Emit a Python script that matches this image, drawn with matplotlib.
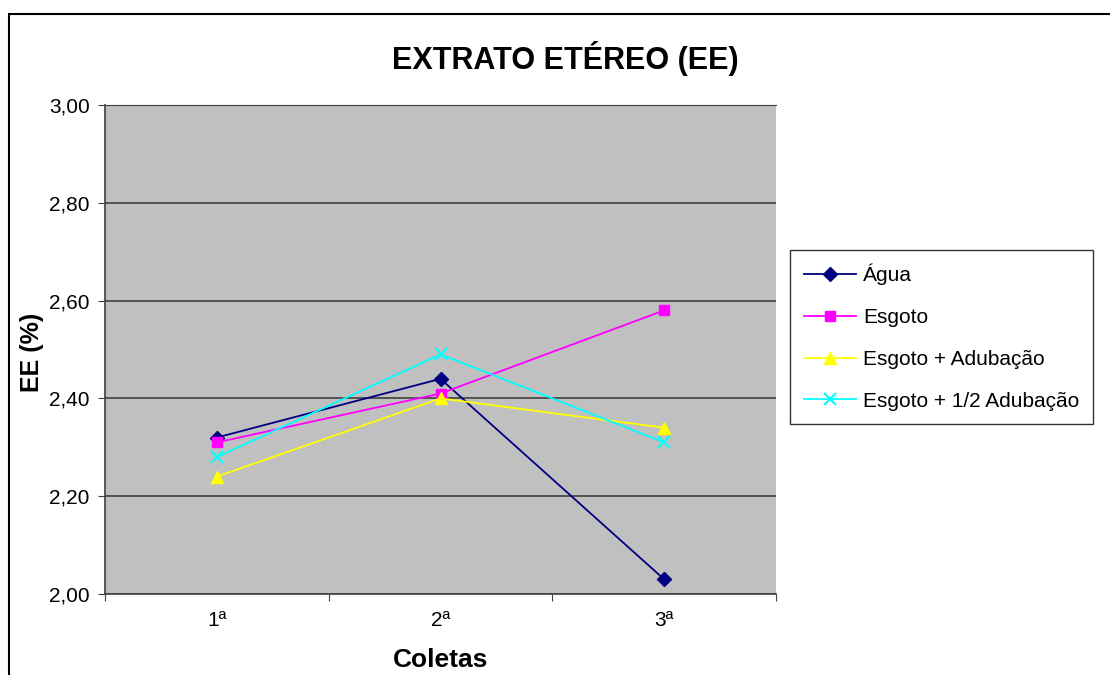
"""Extrato etéreo (EE) por coleta, estilo gráfico de planilha."""

import matplotlib.pyplot as plt
from matplotlib.patches import Rectangle
from matplotlib.ticker import FuncFormatter

plt.rcParams["font.family"] = ["Liberation Sans", "DejaVu Sans"]

COLETAS = ["1ª", "2ª", "3ª"]
AGUA = [2.32, 2.44, 2.03]
ESGOTO = [2.31, 2.41, 2.58]
ESGOTO_ADUB = [2.24, 2.40, 2.34]
ESGOTO_MEIA_ADUB = [2.28, 2.49, 2.31]

SERIES = [
    ("Água", AGUA, "#000080", "D", 7),
    ("Esgoto", ESGOTO, "#FF00FF", "s", 7),
    ("Esgoto + Adubação", ESGOTO_ADUB, "#FFFF00", "^", 8),
    ("Esgoto + 1/2 Adubação", ESGOTO_MEIA_ADUB, "#00FFFF", "x", 8),
]


def main() -> None:
    fig = plt.figure(figsize=(11.1, 6.75), dpi=100)
    fig.patch.set_facecolor("white")

    # outer chart frame, runs off the right and bottom edges
    fig.add_artist(Rectangle((9 / 1110, -0.05), 1.2, 1 - 14 / 675 + 0.05,
                             transform=fig.transFigure, fill=False,
                             edgecolor="black", linewidth=1.5))

    ax = fig.add_axes([105 / 1110, 81 / 675, 671 / 1110, 489 / 675])
    ax.set_facecolor("#C0C0C0")

    x = [i + 0.5 for i in range(len(COLETAS))]
    for name, values, color, marker, size in SERIES:
        ax.plot(x, values, color=color, marker=marker, markersize=size,
                linewidth=1.3, markeredgewidth=1.5 if marker == "x" else 1,
                markeredgecolor=color, label=name)

    ax.set_xlim(0, len(COLETAS))
    ax.set_ylim(2.0, 3.0)
    ax.set_yticks([2.0, 2.2, 2.4, 2.6, 2.8, 3.0])
    ax.yaxis.set_major_formatter(FuncFormatter(lambda v, _: f"{v:.2f}".replace(".", ",")))
    ax.set_xticks(range(len(COLETAS) + 1))
    ax.set_xticklabels([])
    ax.set_xticks(x, minor=True)
    ax.set_xticklabels(COLETAS, minor=True)
    ax.tick_params(axis="x", which="minor", length=0, pad=12, labelsize=15)
    ax.tick_params(axis="x", which="major", length=5, direction="out", color="#404040")
    ax.tick_params(axis="y", length=5, direction="out", labelsize=15, pad=6, color="#404040")

    ax.grid(axis="y", color="#404040", linewidth=1.2)
    ax.set_axisbelow(True)
    for side in ("left", "bottom"):
        ax.spines[side].set_color("#404040")
        ax.spines[side].set_linewidth(1.2)
    ax.spines["top"].set_color("#404040")
    ax.spines["right"].set_visible(False)

    fig.text(565 / 1110, 1 - 58 / 675, "EXTRATO ETÉREO (EE)", fontsize=22,
             fontweight="bold", ha="center", va="center")
    fig.text(441 / 1110, 1 - 660 / 675, "Coletas", fontsize=19,
             fontweight="bold", ha="center", va="center")
    fig.text(32 / 1110, 1 - 352 / 675, "EE (%)", fontsize=18,
             fontweight="bold", ha="center", va="center", rotation=90)

    leg = ax.legend(loc="upper left", bbox_to_anchor=(790 / 1110, 1 - 250 / 675),
                    bbox_transform=fig.transFigure, borderaxespad=0,
                    fontsize=15, frameon=True, fancybox=False,
                    edgecolor="black", handlelength=2.5, labelspacing=1.1,
                    borderpad=0.65, handletextpad=0.35)
    leg.get_frame().set_linewidth(1.0)

    fig.savefig("out.png", dpi=100)


if __name__ == "__main__":
    main()
